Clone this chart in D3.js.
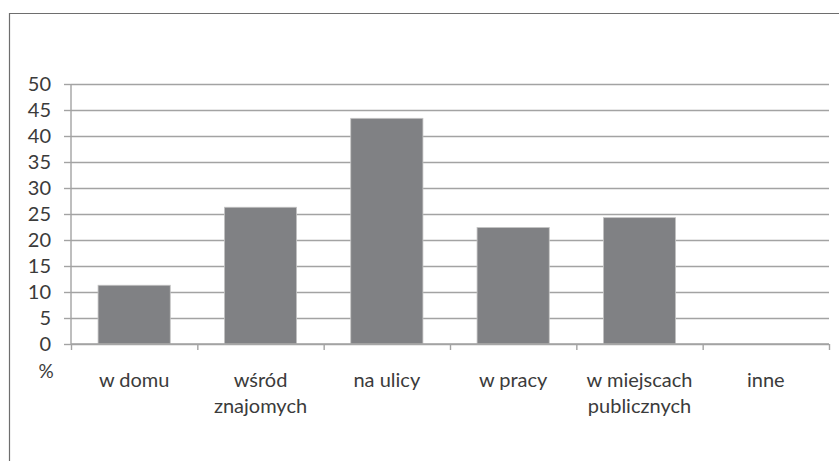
<!DOCTYPE html>
<html>
<head>
<meta charset="utf-8">
<script src="https://cdn.jsdelivr.net/npm/d3@7"></script>
<style>
  html, body { margin: 0; padding: 0; background: #fff; }
  svg { display: block; font-family: Lato, "Open Sans", sans-serif; }
</style>
</head>
<body>
<svg id="chart" width="839" height="461"></svg>
<script>
// Miejsca zdarzeń (%)
const categories = [["w domu"], ["wśród", "znajomych"], ["na ulicy"], ["w pracy"], ["w miejscach", "publicznych"], ["inne"]];
const values = [11.3, 26.3, 43.4, 22.4, 24.3, 0];
const yTicks = [0, 5, 10, 15, 20, 25, 30, 35, 40, 45, 50];
const unitLabel = "%";

const svg = d3.select("#chart");
const W = 839, H = 461;
const plotLeft = 71, plotRight = 829, plotTop = 84, plotBottom = 344;
const textColor = "#3b3b3b";

// outer frame (left and top edges)
svg.append("path")
  .attr("d", `M9.5,${H} V13.5 H${W}`)
  .attr("fill", "none")
  .attr("stroke", "#6e6e6e")
  .attr("stroke-width", 1.2);

const x = d3.scaleBand()
  .domain(d3.range(categories.length))
  .range([plotLeft, plotRight])
  .paddingInner(0.75 / 1.75)
  .paddingOuter(0.75 / 1.75 / 2);

const xEdge = d3.scaleLinear().domain([0, categories.length]).range([plotLeft, plotRight]);
const y = d3.scaleLinear().domain([0, 50]).range([plotBottom, plotTop]);

// horizontal gridlines + tick marks
const yAxis = d3.axisLeft(y).tickValues(yTicks).tickSize(7).tickPadding(13).tickFormat(d3.format("d"));
const gy = svg.append("g").attr("transform", `translate(${plotLeft},0)`).call(yAxis);
gy.select(".domain").remove();
gy.selectAll(".tick line").attr("stroke", "#a3a3a3").attr("stroke-width", 1.4);
gy.selectAll(".tick")
  .append("line")
  .attr("x1", 0).attr("x2", plotRight - plotLeft)
  .attr("stroke", "#a3a3a3").attr("stroke-width", 1.4);
gy.selectAll(".tick text")
  .attr("fill", textColor)
  .style("font-size", "20px")
  .style("font-family", "Lato, sans-serif");

// vertical axis line
svg.append("line")
  .attr("x1", plotLeft).attr("x2", plotLeft)
  .attr("y1", plotTop).attr("y2", plotBottom)
  .attr("stroke", "#a3a3a3").attr("stroke-width", 1.4);

// bars
svg.append("g").selectAll("rect")
  .data(values)
  .join("rect")
  .attr("x", (d, i) => x(i))
  .attr("width", x.bandwidth())
  .attr("y", d => y(d))
  .attr("height", d => y(0) - y(d))
  .attr("fill", "#808184")
  .attr("stroke", "#c4c4c4")
  .attr("stroke-width", 0.8);

// category axis with boundary ticks
const xAxis = d3.axisBottom(xEdge).tickValues(d3.range(categories.length + 1)).tickSize(6).tickFormat("");
const gx = svg.append("g").attr("transform", `translate(0,${plotBottom})`).call(xAxis);
gx.select(".domain").attr("stroke", "#a3a3a3").attr("stroke-width", 1.4).attr("d", `M${plotLeft},0H${plotRight}`);
gx.selectAll(".tick line").attr("stroke", "#a3a3a3").attr("stroke-width", 1.4);

// category labels
const labels = svg.append("g")
  .selectAll("text")
  .data(categories)
  .join("text")
  .attr("x", (d, i) => x(i) + x.bandwidth() / 2)
  .attr("y", 387)
  .attr("text-anchor", "middle")
  .attr("fill", textColor)
  .style("font-size", "20px");
labels.selectAll("tspan")
  .data(d => d)
  .join("tspan")
  .attr("x", function() { return this.parentNode.getAttribute("x"); })
  .attr("dy", (d, i) => i === 0 ? 0 : 26)
  .text(d => d);

// unit label
svg.append("text")
  .attr("x", 46).attr("y", 378)
  .attr("text-anchor", "middle")
  .attr("fill", textColor)
  .style("font-size", "19px")
  .text(unitLabel);
</script>
</body>
</html>
